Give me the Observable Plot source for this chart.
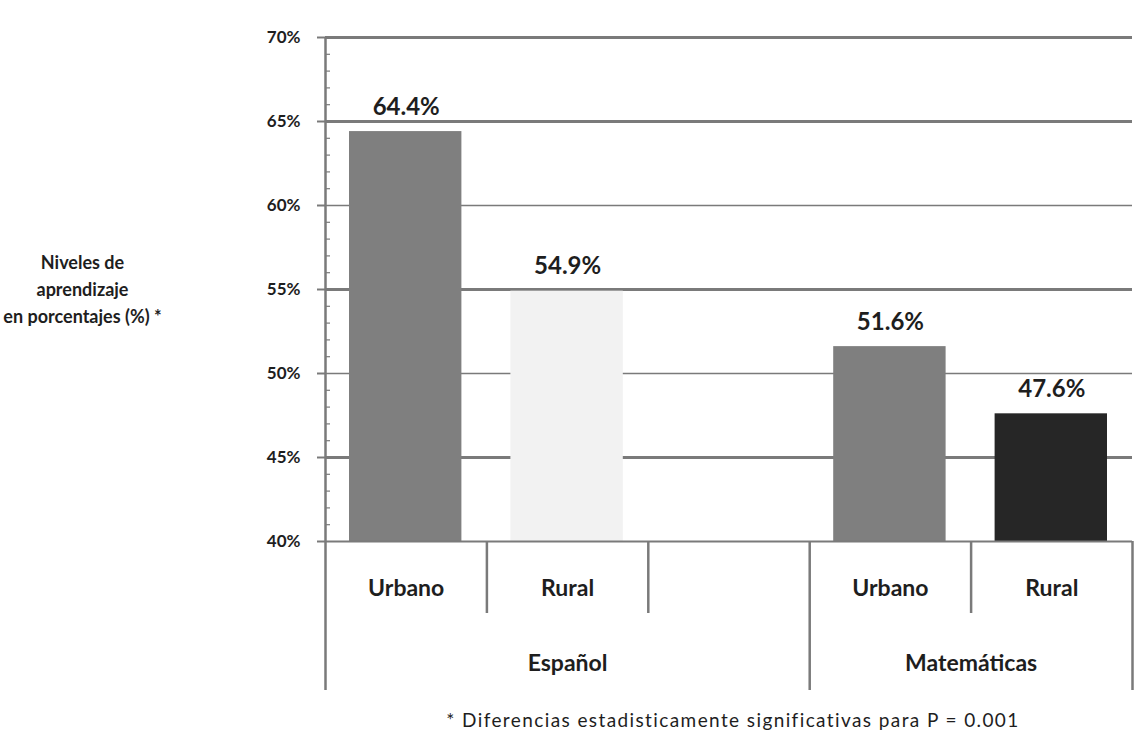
<!DOCTYPE html>
<html>
<head>
<meta charset="utf-8">
<script src="https://cdn.jsdelivr.net/npm/d3@7"></script>
<script src="https://cdn.jsdelivr.net/npm/@observablehq/plot@0.6"></script>
<style>
  html, body { margin: 0; padding: 0; background: #ffffff; }
  #chart { width: 1147px; height: 749px; }
</style>
</head>
<body>
<div id="chart"></div>
<script>
// ---- data ----
const slotKeys = ["Español|Urbano", "Español|Rural", "_gap", "Matemáticas|Urbano", "Matemáticas|Rural"];
const subjects = ["Español", "Español", "Matemáticas", "Matemáticas"];
const areas = ["Urbano", "Rural", "Urbano", "Rural"];
const values = [64.4, 54.9, 51.6, 47.6];
const barColors = ["#7f7f7f", "#f2f2f2", "#7f7f7f", "#262626"];
const groups = ["Español", "Matemáticas"];
const majorTicks = [40, 45, 50, 55, 60, 65, 70];
const thickGrid = [45, 55, 65, 70];
const thinGrid = [50, 60];
const minorTicks = d3.range(40, 71).filter(v => v % 5 !== 0);
const yLabel = "Niveles de\naprendizaje\nen porcentajes (%) *";
const footnote = "* Diferencias estadisticamente significativas para P = 0.001";

// ---- derived table ----
const bars = values.map((v, k) => ({
  subject: subjects[k], area: areas[k], value: v, color: barColors[k],
  i: slotKeys.indexOf(subjects[k] + "|" + areas[k])
}));
const groupSpans = groups.map((g, k) => {
  const start = slotKeys.findIndex(s => s.startsWith(g + "|"));
  const end = k + 1 < groups.length ? slotKeys.findIndex(s => s.startsWith(groups[k + 1] + "|")) : slotKeys.length;
  return {name: g, start, end};
});
const shortSeps = d3.range(slotKeys.length + 1).filter(b => !groupSpans.some(g => g.start === b || g.end === b));
const longSeps = Array.from(new Set(groupSpans.flatMap(g => [g.start, g.end]))).filter(b => b !== 0);

const axisColor = "#7a7a7a";
const textColor = "#1e1e1e";

const chart = Plot.plot({
  width: 1147,
  height: 749,
  marginLeft: 325,
  marginRight: 15,
  marginTop: 37,
  marginBottom: 208,
  style: {fontFamily: "Lato, 'Open Sans', sans-serif", background: "#ffffff", color: textColor},
  x: {domain: [0, slotKeys.length], axis: null},
  y: {domain: [40, 70], axis: null},
  marks: [
    Plot.ruleY(thinGrid, {stroke: axisColor, strokeWidth: 1.3}),
    Plot.ruleY(thickGrid, {stroke: axisColor, strokeWidth: 3}),
    Plot.rectY(bars, {x1: "i", x2: d => d.i + 1, y1: 40, y2: "value", fill: "color", insetLeft: 24, insetRight: 25}),
    Plot.ruleY([40], {stroke: axisColor, strokeWidth: 2}),
    Plot.axisY({ticks: majorTicks, tickSize: 8, tickPadding: 17, tickFormat: d => d + "%", label: null,
      fontSize: 17, fontWeight: "bold", stroke: axisColor, strokeWidth: 2, fill: textColor}),
    Plot.axisY({ticks: minorTicks, tickSize: -5, tickFormat: () => "", label: null, stroke: axisColor, strokeWidth: 1.2}),
    Plot.ruleX([0], {stroke: axisColor, strokeWidth: 2.5, insetBottom: -149}),
    Plot.ruleX(longSeps, {stroke: axisColor, strokeWidth: 2.5, insetTop: 504, insetBottom: -149}),
    Plot.ruleX(shortSeps, {stroke: axisColor, strokeWidth: 2.5, insetTop: 504, insetBottom: -72}),
    Plot.text(bars, {x: d => d.i + 0.5, y: "value", text: d => d.value.toFixed(1) + "%",
      lineAnchor: "bottom", dy: -17, fontSize: 24, fontWeight: "bold", fill: textColor}),
    Plot.text(bars, {x: d => d.i + 0.5, text: "area", frameAnchor: "bottom", dy: 54,
      fontSize: 23, fontWeight: "bold", fill: textColor}),
    Plot.text(groupSpans, {x: d => (d.start + d.end) / 2, text: "name", frameAnchor: "bottom", dy: 129,
      fontSize: 23, fontWeight: "bold", fill: textColor}),
    Plot.text([yLabel], {text: d => d, frameAnchor: "left", dx: -243, dy: -2, textAnchor: "middle",
      lineHeight: 1.5, fontSize: 18, fontWeight: "bold", fill: textColor}),
    Plot.text([footnote], {text: d => d, frameAnchor: "bottom", dy: 185, dx: 4, fontSize: 19, fill: textColor})
  ]
});
// widen the footnote's letter spacing to match the reference
chart.querySelectorAll("text").forEach(t => {
  if (t.textContent === footnote) t.setAttribute("letter-spacing", "1.4");
});
document.getElementById("chart").appendChild(chart);
</script>
</body>
</html>
